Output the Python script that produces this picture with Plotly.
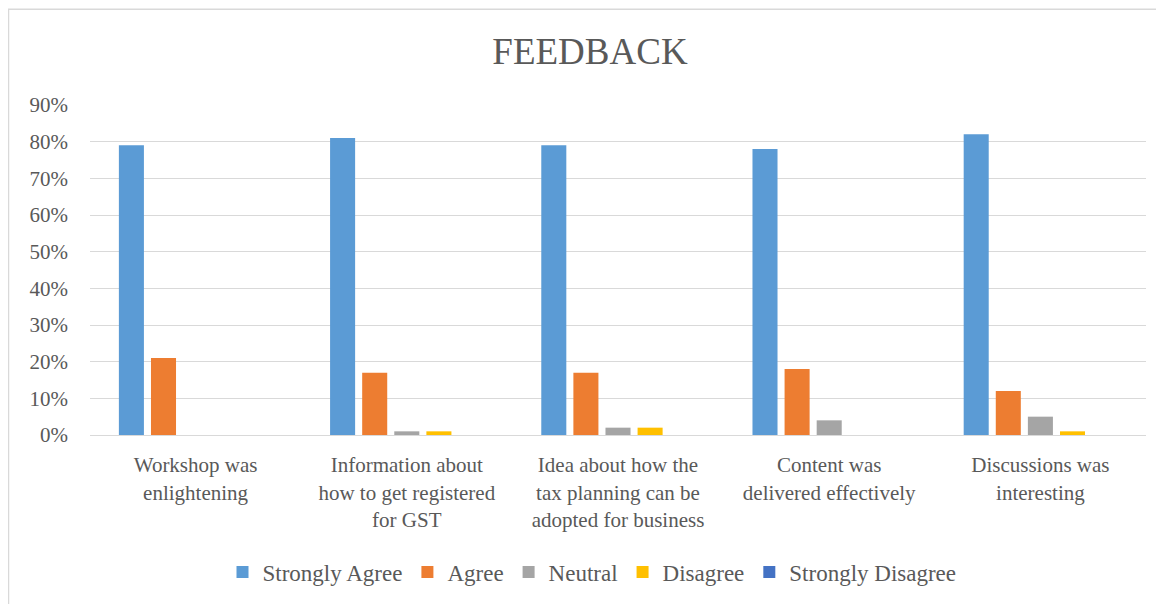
import plotly.graph_objects as go

categories = [
    "Workshop was<br>enlightening",
    "Information about<br>how to get registered<br>for GST",
    "Idea about how the<br>tax planning can be<br>adopted for business",
    "Content was<br>delivered effectively",
    "Discussions was<br>interesting",
]
series_names = ["Strongly Agree", "Agree", "Neutral", "Disagree", "Strongly Disagree"]
strongly_agree = [0.79, 0.81, 0.79, 0.78, 0.82]
agree = [0.21, 0.17, 0.17, 0.18, 0.12]
neutral = [0.00, 0.01, 0.02, 0.04, 0.05]
disagree = [0.00, 0.01, 0.02, 0.00, 0.01]
strongly_disagree = [0.00, 0.00, 0.00, 0.00, 0.00]
colors = ["#5B9BD5", "#ED7D31", "#A5A5A5", "#FFC000", "#4472C4"]

OFF = 8  # page body margin
W, H = 1164 - OFF, 604 - OFF
# plot area in page pixels: x 90..1146, y 105..436
L = 90 - OFF
T = 105 - OFF
R = W - (1146 - OFF)
B = H - (436 - OFF)
pw, ph = W - L - R, H - T - B

def px_x(p):
    return (p - OFF - L) / pw

def px_y(p):
    return (H - B - (p - OFF)) / ph

FONT = "Liberation Serif"
GREY = "#595959"

fig = go.Figure()
for name, vals, c in zip(series_names,
                         [strongly_agree, agree, neutral, disagree, strongly_disagree],
                         colors):
    fig.add_trace(go.Bar(x=categories, y=vals, name=name, marker_color=c,
                         marker_line_width=0))

fig.update_layout(
    width=W, height=H,
    margin=dict(l=L, r=R, t=T, b=B),
    paper_bgcolor="white", plot_bgcolor="white",
    barmode="group", bargap=0.24, bargroupgap=0.22,
    font=dict(family=FONT, color=GREY, size=21),
    title=dict(text="FEEDBACK", font=dict(family=FONT, size=37, color=GREY),
               x=(590 - OFF) / W, xref="container", xanchor="center",
               y=1 - (51 - OFF) / H, yref="container", yanchor="middle"),
    showlegend=True,
    legend=dict(orientation="h", x=px_x(592), xanchor="center",
                y=px_y(572), yanchor="middle",
                font=dict(family=FONT, size=23, color=GREY),
                itemwidth=30, traceorder="normal"),
    xaxis=dict(showgrid=False, showline=True, linecolor="#D9D9D9", linewidth=1,
               tickfont=dict(family=FONT, size=21, color=GREY),
               ticks="", ticklabelstandoff=11),
    yaxis=dict(range=[0, 0.9], dtick=0.1, tickformat=".0%",
               showgrid=True, gridcolor="#D9D9D9", gridwidth=1,
               zeroline=False, showline=False,
               tickfont=dict(family=FONT, size=21, color=GREY),
               ticklabelstandoff=21),
)

# outer chart border (left and top edges visible)
fig.add_shape(type="path", xref="paper", yref="paper",
              path=f"M {px_x(8.5)},{px_y(620)} L {px_x(8.5)},{px_y(9)} L {px_x(1180)},{px_y(9)}",
              line=dict(color="#D9D9D9", width=1.5), layer="above")

fig.write_html("out.html")
